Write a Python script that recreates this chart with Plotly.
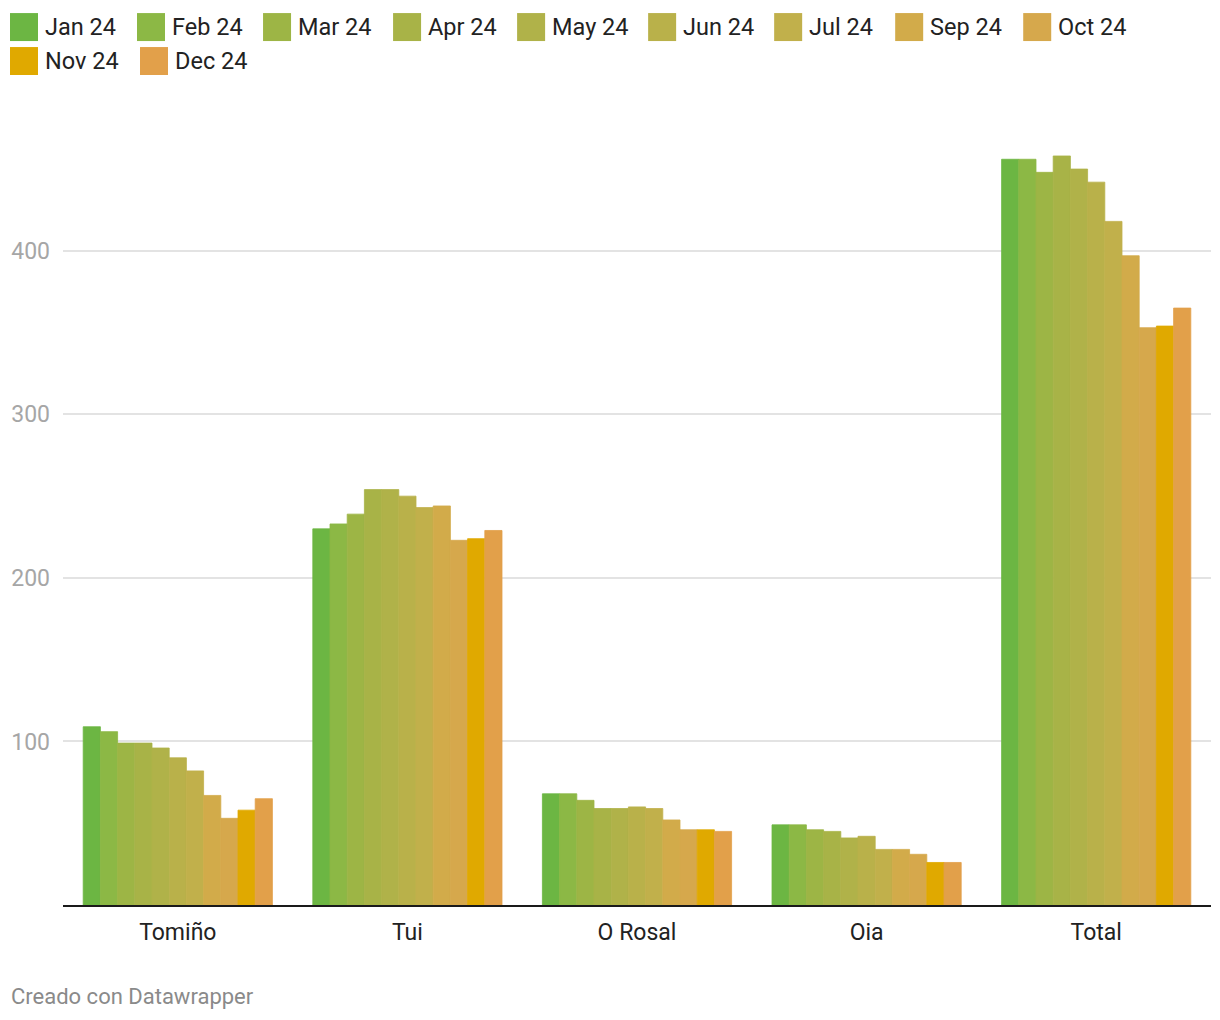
import plotly.graph_objects as go

categories = ["Tomiño", "Tui", "O Rosal", "Oia", "Total"]
months = ["Jan 24", "Feb 24", "Mar 24", "Apr 24", "May 24", "Jun 24",
          "Jul 24", "Sep 24", "Oct 24", "Nov 24", "Dec 24"]

tomino = [109, 106, 99, 99, 96, 90, 82, 67, 53, 58, 65]
tui = [230, 233, 239, 254, 254, 250, 243, 244, 223, 224, 229]
o_rosal = [68, 68, 64, 59, 59, 60, 59, 52, 46, 46, 45]
oia = [49, 49, 46, 45, 41, 42, 34, 34, 31, 26, 26]
total = [456, 456, 448, 458, 450, 442, 418, 397, 353, 354, 365]

colors = ["#6cb643", "#8cb845", "#9db545", "#a8b347", "#b0b249", "#b9b14a",
          "#c1b04b", "#d2ab4a", "#d6a84c", "#e0a900", "#e2a04a"]

y_ticks = [100, 200, 300, 400]

# layout geometry (pixels, page offset of 8px from body margin)
OFF = 8
W, H = 1212, 1012
ML = 63 - OFF
MT = 120 - OFF
PLOT_RIGHT = 1210.75 - OFF
PLOT_BOTTOM = 905.5 - OFF
MR = W - PLOT_RIGHT
MB = H - PLOT_BOTTOM
PW = W - ML - MR
PH = H - MT - MB
YMAX = 480

legend_x = [10, 137, 263, 393, 517, 648, 774, 895, 1023, 10, 140]
legend_row = [0, 0, 0, 0, 0, 0, 0, 0, 0, 1, 1]

fig = go.Figure()
for i, m in enumerate(months):
    vals = [tomino[i], tui[i], o_rosal[i], oia[i], total[i]]
    fig.add_trace(go.Bar(
        x=categories, y=vals, name=m,
        marker=dict(color=colors[i], line=dict(width=0.8, color=colors[i])),
        showlegend=False,
    ))

def px_to_paper_x(px):
    return (px - OFF - ML) / PW

def px_to_paper_y(py):
    return (H - MB - (py - OFF)) / PH

shapes = []
annotations = []
for i, m in enumerate(months):
    x0 = legend_x[i]
    yc = 27 + 34 * legend_row[i]
    shapes.append(dict(
        type="rect", xref="paper", yref="paper",
        x0=px_to_paper_x(x0), x1=px_to_paper_x(x0 + 28),
        y0=px_to_paper_y(yc + 14), y1=px_to_paper_y(yc - 14),
        fillcolor=colors[i], line=dict(width=0),
    ))
    annotations.append(dict(
        text=m, xref="paper", yref="paper",
        x=px_to_paper_x(x0 + 33), y=px_to_paper_y(yc),
        xanchor="left", yanchor="middle", showarrow=False,
        font=dict(family="Roboto", size=23.5, color="#222222"),
    ))

annotations.append(dict(
    text="Creado con Datawrapper", xref="paper", yref="paper",
    x=px_to_paper_x(9), y=px_to_paper_y(997),
    xanchor="left", yanchor="middle", showarrow=False,
    font=dict(family="Roboto", size=22, color="#8a8a8a"),
))

fig.update_layout(
    width=W, height=H,
    margin=dict(l=ML, r=MR, t=MT, b=MB, pad=0),
    paper_bgcolor="white", plot_bgcolor="white",
    barmode="group", bargap=0.176, bargroupgap=0,
    showlegend=False,
    shapes=shapes, annotations=annotations,
    font=dict(family="Roboto"),
    xaxis=dict(
        showline=True, linecolor="#1a1a1a", linewidth=2,
        showgrid=False, ticks="", ticklabelstandoff=5,
        automargin=False,
        tickfont=dict(family="Roboto", size=23, color="#222222"),
        range=[-0.5, 4.5],
    ),
    yaxis=dict(
        range=[0, YMAX], tickvals=y_ticks,
        showgrid=True, gridcolor="#e3e3e3", gridwidth=1.5,
        zeroline=False, showline=False, ticks="",
        ticklabelstandoff=12, automargin=False,
        tickfont=dict(family="Roboto", size=23, color="#a6a6a6"),
    ),
)

fig.write_html("out.html")
